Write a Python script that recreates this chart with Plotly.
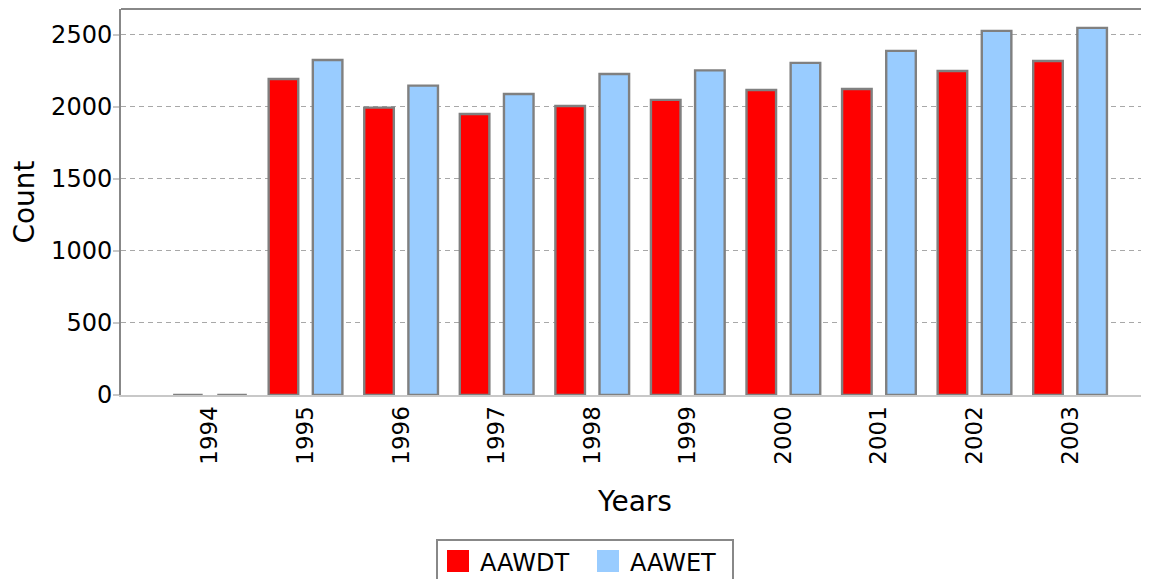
import plotly.graph_objects as go

years = ["1994", "1995", "1996", "1997", "1998", "1999", "2000", "2001", "2002", "2003"]
aawdt = [0, 2194, 1995, 1951, 2007, 2049, 2118, 2125, 2250, 2319]
aawet = [0, 2326, 2148, 2090, 2229, 2254, 2306, 2389, 2528, 2549]
series_names = ["AAWDT", "AAWET"]
series_colors = ["#ff0000", "#99ccff"]

OFF = 8  # page body margin
W, H = 1149 - OFF, 579 - OFF
L, T, B = 121, 9, 395  # plot area pixel edges in the window
R = 1149
PW, PH = R - L, B - T

def px(x):
    return (x - L) / PW

def py(y):
    return (B - y) / PH

FONT = "DejaVu Sans"

fig = go.Figure()
for name, vals, col in zip(series_names, [aawdt, aawet], series_colors):
    fig.add_trace(go.Bar(
        x=years, y=vals, name=name,
        marker=dict(color=col, line=dict(color="#808080", width=2.4)),
        showlegend=False,
    ))

shapes = [
    dict(type="line", xref="paper", yref="paper", x0=0, x1=1, y0=1, y1=1,
         line=dict(color="#888888", width=2)),
    dict(type="rect", xref="paper", yref="paper", x0=px(437), x1=px(733), y0=py(540), y1=py(600),
         line=dict(color="#888888", width=2), fillcolor="rgba(0,0,0,0)"),
]
annotations = []
swatch_x = [447, 597]
for name, col, sx in zip(series_names, series_colors, swatch_x):
    shapes.append(dict(type="rect", xref="paper", yref="paper",
                       x0=px(sx), x1=px(sx + 22), y0=py(550), y1=py(572),
                       line=dict(width=0), fillcolor=col))
    annotations.append(dict(text=name, xref="paper", yref="paper", x=px(sx + 31), y=py(563),
                            xanchor="left", yanchor="middle", showarrow=False,
                            font=dict(family=FONT, size=24, color="black")))

fig.update_layout(
    width=W, height=H,
    margin=dict(l=L - OFF, r=0, t=T - OFF, b=579 - B),
    paper_bgcolor="white", plot_bgcolor="white",
    barmode="group", bargap=0.076, bargroupgap=0.33,
    font=dict(family=FONT, size=24, color="black"),
    shapes=shapes, annotations=annotations,
    showlegend=False,
    xaxis=dict(
        type="category", range=[-0.931, 9.826],
        showline=True, linecolor="#c8c8c8", linewidth=2,
        showgrid=False, ticks="", tickangle=-90,
        tickfont=dict(family=FONT, size=23),
        title=dict(text="Years", font=dict(family=FONT, size=28), standoff=28),
    ),
    yaxis=dict(
        range=[0, 2680], tickvals=[0, 500, 1000, 1500, 2000, 2500],
        showline=True, linecolor="#888888", linewidth=2,
        showgrid=True, gridcolor="#a8a8a8", gridwidth=1, griddash="5px,4px",
        zeroline=False,
        ticks="outside", ticklen=6, tickcolor="#c8c8c8", tickwidth=2,
        ticklabelstandoff=-4,
        tickfont=dict(family=FONT, size=24),
        title=dict(text="Count", font=dict(family=FONT, size=28), standoff=16),
    ),
)

fig.write_html("out.html")
